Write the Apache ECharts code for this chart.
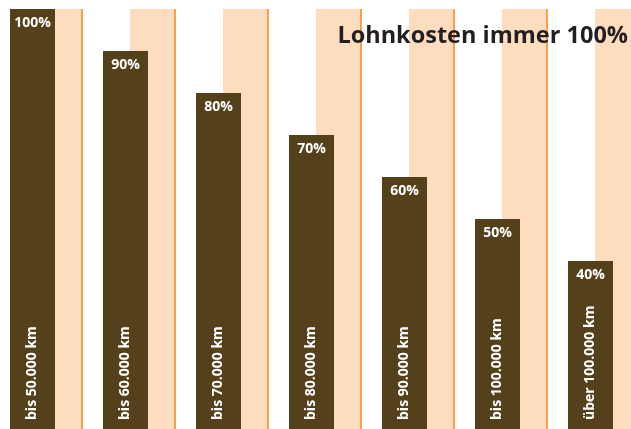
<!DOCTYPE html>
<html>
<head>
<meta charset="utf-8">
<script src="https://cdn.jsdelivr.net/npm/echarts@6/dist/echarts.min.js"></script>
<style>
  html, body { margin: 0; padding: 0; background: #fff; }
  #chart { width: 631px; height: 429px; }
</style>
</head>
<body>
<div id="chart"></div>
<script>
// data
var categories = ['bis 50.000 km', 'bis 60.000 km', 'bis 70.000 km', 'bis 80.000 km', 'bis 90.000 km', 'bis 100.000 km', 'über 100.000 km'];
var anteil = [100, 90, 80, 70, 60, 50, 40];
var lohnkosten = [100, 100, 100, 100, 100, 100, 100];

var font = 'Open Sans';
var myChart = echarts.init(document.getElementById('chart'));

option = {
    animation: false,
    title: {
        text: 'Lohnkosten immer 100%',
        right: 3,
        top: 24,
        padding: 0,
        textStyle: { fontFamily: font, fontSize: 23.5, fontWeight: 'bold', color: '#231f20' }
    },
    grid: [
        { left: -14, right: -6, top: 9, bottom: 0, outerBoundsMode: 'none' },
        { left: 12.5, right: -32.5, top: 9, bottom: 0, outerBoundsMode: 'none' }
    ],
    xAxis: [
        { type: 'category', data: categories, gridIndex: 0, show: false },
        { type: 'category', data: categories, gridIndex: 1, show: false }
    ],
    yAxis: [
        { type: 'value', min: 0, max: 100, gridIndex: 0, show: false },
        { type: 'value', min: 0, max: 100, gridIndex: 1, show: false }
    ],
    series: [
        {
            name: 'Lohnkosten',
            type: 'bar',
            xAxisIndex: 1,
            yAxisIndex: 1,
            data: lohnkosten,
            barWidth: 44,
            z: 1,
            itemStyle: {
                color: '#fedcbe',
                shadowColor: '#f8a04c',
                shadowOffsetX: 2,
                shadowBlur: 0
            }
        },
        {
            name: 'Anteil',
            type: 'bar',
            data: anteil,
            barWidth: 45,
            barGap: '-100%',
            z: 3,
            itemStyle: { color: '#54401a' },
            label: {
                show: true,
                position: 'insideTop',
                distance: 7,
                formatter: '{c}%',
                color: '#fff',
                fontFamily: font,
                fontSize: 14,
                fontWeight: 'bold'
            }
        },
        {
            name: 'Kategorie',
            type: 'bar',
            data: anteil,
            barWidth: 45,
            barGap: '-100%',
            z: 4,
            itemStyle: { color: 'transparent' },
            label: {
                show: true,
                position: 'insideBottom',
                distance: 9,
                rotate: 90,
                align: 'left',
                verticalAlign: 'middle',
                formatter: '{b}',
                color: '#fff',
                fontFamily: font,
                fontSize: 14,
                fontWeight: 'bold'
            }
        }
    ]
};

myChart.setOption(option, true);
</script>
</body>
</html>
